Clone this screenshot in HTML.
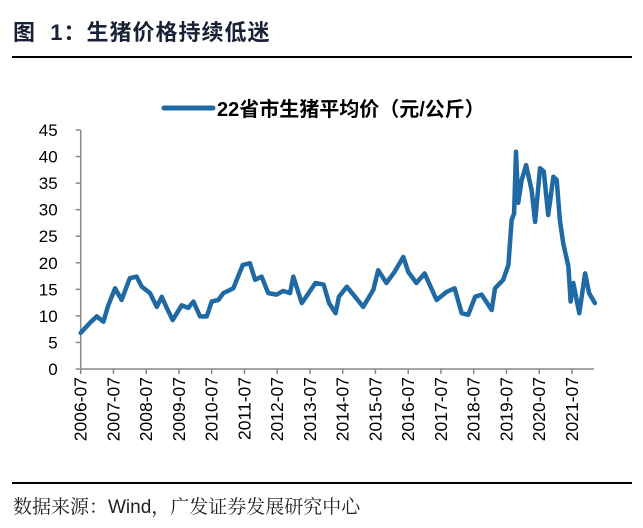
<!DOCTYPE html>
<html><head><meta charset="utf-8"><style>
html,body{margin:0;padding:0;background:#fff;}
body{width:643px;height:528px;overflow:hidden;position:relative;font-family:"Liberation Sans","Noto Sans CJK SC",sans-serif;}
</style></head><body>
<div style="position:absolute;left:13px;top:15px;font-size:22px;letter-spacing:1px;font-weight:bold;color:#1a2238;font-family:'Liberation Sans','Noto Sans CJK SC',sans-serif;">图&nbsp; 1：生猪价格持续低迷</div>
<div style="position:absolute;left:12px;top:56px;width:620px;height:2px;background:#000;"></div>
<svg width="643" height="528" style="position:absolute;left:0;top:0" id="chart"></svg>
<div style="position:absolute;left:12px;top:482px;width:620px;height:2px;background:#000;"></div>
<div style="position:absolute;left:13px;top:492px;font-size:19px;color:#222;font-family:'Liberation Sans','Noto Serif CJK SC',serif;">数据来源：Wind，广发证券发展研究中心</div>
<script>
// months since 2006-07
const months = [0,3.4,5.9,8.3,10.1,12.6,15,18,20.5,22.4,25.4,27.9,29.7,31.5,33.7,37,39.4,41.3,43.7,46.2,48,50.4,52.3,55.9,59.4,62,63.9,66.3,68.7,71.8,74.2,76.7,77.9,81,83.5,86,89,91,93.4,94.6,97.5,99.9,103.5,107.2,109,112,115,118.2,120,123,126,130.4,134,137,139.6,142,144.5,146.9,150.6,151.8,154.8,156.7,157.9,158.8,159.5,160.3,161.6,163.2,165.2,166.5,168.3,169.7,171.3,173.2,174.4,175.6,176.8,178.7,179.5,180.5,182.7,184.8,186.3,188.4];
const prices = [6.8,8.7,9.9,8.9,12,15.2,13,17.1,17.4,15.5,14.3,11.7,13.6,11.5,9.2,12,11.5,12.7,9.9,9.9,12.7,13,14.3,15.2,19.6,19.9,16.8,17.4,14.3,14,14.7,14.3,17.4,12.4,14.3,16.2,15.9,12.4,10.5,13.6,15.5,14,11.7,14.9,18.6,16.2,18.3,21.1,18.3,16.2,18,13,14.5,15.2,10.5,10.2,13.6,14,11.1,15.2,16.8,19.6,28,29.3,40.9,31.3,35.6,38.4,33.7,27.7,37.8,37.2,29,36.2,35.6,28,23.7,19.3,12.7,16.2,10.5,18,14.3,12.4];
const yTicks = [0,5,10,15,20,25,30,35,40,45];
const xTickLabels = ["2006-07","2007-07","2008-07","2009-07","2010-07","2011-07","2012-07","2013-07","2014-07","2015-07","2016-07","2017-07","2018-07","2019-07","2020-07","2021-07"];

const NS="http://www.w3.org/2000/svg";
const svg=document.getElementById('chart');
const x0=80.7, pxPerMonth=32.75/12, yBase=369, pxPerUnit=(369-130)/45;
const xs=m=>x0+m*pxPerMonth;
const ys=v=>yBase-v*pxPerUnit;
function mk(t,a){const e=document.createElementNS(NS,t);for(const k in a)e.setAttribute(k,a[k]);svg.appendChild(e);return e;}

let ax=mk('line',{x1:x0,y1:ys(0),x2:x0,y2:ys(45),stroke:'#888','stroke-width':1.5});


let bx=mk('line',{x1:x0,y1:yBase,x2:594,y2:yBase,stroke:'#888','stroke-width':1.5});



yTicks.forEach(v=>{
  const t=mk('line',{x1:x0-5,y1:ys(v),x2:x0,y2:ys(v),stroke:'#888','stroke-width':1.5});
  
  
  const l=mk('text',{x:x0-23,y:ys(v)+6,'text-anchor':'end','font-size':17,fill:'#000','font-family':'Liberation Sans, sans-serif'});
  l.textContent=v;
  
  
});
xTickLabels.forEach((s,i)=>{
  const x=xs(i*12);
  const t=mk('line',{x1:x,y1:yBase,x2:x,y2:yBase+5,stroke:'#888','stroke-width':1.5});
  
  
  const l=mk('text',{x:0,y:0,'text-anchor':'end','font-size':17.5,fill:'#000','font-family':'Liberation Sans, sans-serif',transform:`translate(${x+6},${yBase+8}) rotate(-90)`});
  l.textContent=s;
  
  
});

const d=months.map((m,i)=>(i?'L':'M')+xs(m).toFixed(1)+' '+ys(prices[i]).toFixed(1)).join(' ');
const p=mk('path',{d:d,fill:'none',stroke:'#1f6aa5','stroke-width':4.5,'stroke-linejoin':'round','stroke-linecap':'round'});



const lg=mk('line',{x1:164,y1:108,x2:213,y2:108,stroke:'#1f6aa5','stroke-width':5,'stroke-linecap':'round'});


const lt=mk('text',{x:217,y:116,'font-size':20,'font-weight':'bold',fill:'#000','font-family':'Liberation Sans, Noto Sans CJK SC, sans-serif'});
lt.textContent='22省市生猪平均价（元/公斤）';


</script>
</body></html>
